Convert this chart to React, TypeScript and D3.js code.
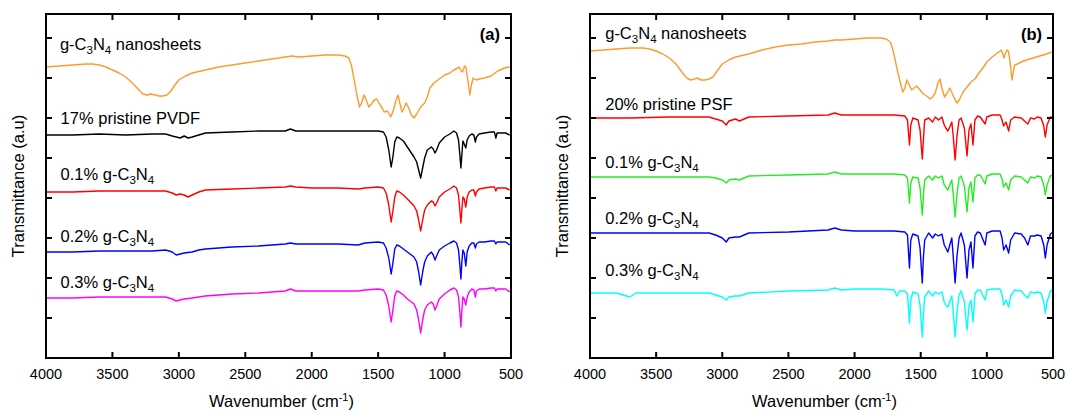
import React from 'react';
import * as d3 from 'd3';

type Pt = [number, number];

const xTicks = [4000, 3500, 3000, 2500, 2000, 1500, 1000, 500];
const yTicks = [40, 80, 120, 160, 200, 240, 280, 320];

// Panel (a)
const gcnA: Pt[] = [[4000,291],[3900,292],[3800,293],[3700,294],[3650,294],[3600,293],[3550,291],[3500,288],[3450,285],[3400,281],[3350,275],[3300,268],[3270,264],[3240,263],[3210,264],[3180,263],[3150,262],[3120,262],[3090,263],[3060,267],[3030,273],[3000,278],[2950,282],[2900,285],[2800,288],[2700,291],[2600,293],[2500,295],[2400,297],[2300,299],[2200,301],[2150,302],[2100,301],[2000,302],[1900,303],[1800,303],[1750,302],[1720,300],[1700,292],[1680,278],[1660,263],[1640,251],[1625,255],[1605,263],[1590,258],[1570,251],[1550,254],[1530,258],[1510,259],[1490,254],[1470,250],[1455,246],[1430,247],[1405,241],[1385,248],[1365,258],[1350,263],[1335,254],[1320,246],[1305,250],[1290,255],[1270,250],[1250,243],[1230,240],[1210,244],[1180,251],[1150,255],[1130,261],[1110,270],[1080,275],[1050,278],[1000,283],[960,285],[930,288],[900,290],[890,291],[875,287],[865,286],[850,292],[840,291],[825,278],[810,263],[798,273],[785,280],[760,278],[740,279],[700,280],[650,282],[600,287],[550,290],[510,291]];

const pvdf: Pt[] = [[4000,223],[3800,223],[3600,224],[3400,223],[3200,224],[3100,224],[3050,222],[3020,221],[2990,220],[2960,222],[2930,220],[2900,221],[2850,223],[2800,225],[2600,226],[2400,227],[2200,227],[2160,229],[2120,227],[2000,227],[1800,227],[1600,227],[1500,227],[1460,226],[1440,221],[1420,208],[1402,191],[1390,200],[1375,216],[1360,221],[1340,220],[1310,217],[1280,211],[1250,205],[1230,201],[1210,196],[1195,188],[1180,180],[1165,190],[1150,200],[1130,208],[1100,211],[1085,209],[1072,205],[1060,208],[1040,215],[1000,221],[960,224],[930,227],[910,225],[895,218],[885,203],[877,190],[870,203],[862,217],[852,214],[840,210],[830,218],[815,222],[795,224],[780,223],[768,216],[760,221],[740,224],[700,225],[650,226],[625,226],[614,220],[605,225],[570,225],[540,225],[510,223]];

const pvdf01: Pt[] = [[4000,166],[3800,166],[3600,167],[3400,167],[3200,167],[3100,167],[3050,165],[3020,163],[2990,164],[2960,163],[2930,161],[2900,163],[2850,166],[2800,168],[2600,169],[2400,170],[2200,171],[2160,172],[2120,171],[2000,170],[1800,170],[1650,169],[1600,170],[1500,171],[1460,170],[1440,165],[1420,153],[1402,136],[1390,146],[1375,161],[1360,167],[1340,166],[1310,163],[1280,159],[1250,155],[1230,152],[1210,147],[1195,138],[1180,127],[1165,138],[1150,148],[1130,153],[1100,157],[1085,156],[1072,152],[1060,155],[1040,161],[1000,166],[960,169],[930,172],[910,170],[895,163],[885,148],[877,135],[870,148],[862,161],[852,159],[840,151],[830,161],[815,166],[795,168],[780,168],[768,162],[760,166],[740,169],[700,170],[650,171],[625,171],[614,167],[605,170],[570,170],[540,170],[510,168]];

const pvdf02: Pt[] = [[4000,106],[3800,106],[3600,107],[3400,107],[3200,107],[3100,108],[3050,106],[3020,103],[2990,104],[2960,105],[2900,106],[2850,108],[2800,109],[2600,111],[2400,112],[2200,114],[2160,115],[2120,114],[2000,114],[1800,114],[1650,113],[1600,115],[1500,116],[1460,115],[1440,110],[1420,100],[1402,84],[1390,94],[1375,109],[1360,113],[1340,112],[1310,109],[1280,106],[1250,103],[1230,101],[1210,96],[1195,86],[1180,73],[1165,86],[1150,96],[1130,102],[1100,106],[1085,103],[1072,98],[1060,102],[1040,108],[1000,112],[960,115],[930,117],[910,115],[895,108],[885,93],[877,79],[870,96],[862,108],[852,105],[840,92],[830,106],[815,112],[795,115],[780,115],[768,110],[760,114],[740,116],[700,116],[650,117],[625,117],[614,114],[605,116],[570,116],[540,116],[510,113]];

const pvdf03: Pt[] = [[4000,60],[3800,60],[3600,61],[3400,61],[3200,61],[3100,61],[3050,59],[3020,57],[2990,58],[2960,59],[2900,60],[2850,61],[2800,62],[2600,64],[2400,65],[2200,67],[2160,69],[2120,67],[2000,67],[1800,67],[1650,67],[1600,68],[1500,69],[1460,68],[1440,63],[1420,52],[1402,36],[1390,47],[1375,62],[1360,67],[1340,66],[1310,63],[1280,59],[1250,56],[1230,54],[1210,48],[1195,38],[1180,25],[1165,38],[1150,48],[1130,53],[1100,56],[1085,54],[1072,48],[1060,52],[1040,59],[1000,64],[960,68],[930,70],[910,68],[895,61],[885,46],[877,31],[870,47],[862,61],[852,59],[840,53],[830,61],[815,66],[795,69],[780,68],[768,61],[760,67],[740,69],[700,69],[650,70],[625,70],[614,67],[605,69],[570,69],[540,69],[510,66]];

// Panel (b)
const gcnB: Pt[] = [[4000,307],[3900,308],[3800,309],[3700,310],[3600,310],[3550,309],[3500,307],[3450,304],[3400,300],[3350,294],[3300,285],[3270,280],[3240,278],[3210,279],[3190,280],[3160,278],[3130,278],[3100,279],[3070,281],[3040,287],[3000,294],[2950,298],[2900,301],[2800,304],[2700,308],[2600,311],[2500,313],[2400,314],[2300,316],[2200,317],[2150,318],[2100,318],[2000,319],[1900,320],[1800,320],[1760,319],[1730,316],[1710,308],[1690,296],[1670,284],[1650,273],[1635,266],[1620,270],[1605,278],[1590,274],[1570,268],[1550,270],[1530,272],[1505,268],[1480,264],[1455,262],[1430,259],[1410,261],[1390,265],[1370,275],[1355,279],[1340,270],[1320,261],[1300,265],[1280,270],[1260,264],[1240,258],[1225,255],[1205,259],[1180,266],[1150,271],[1120,276],[1090,279],[1060,285],[1030,290],[1000,296],[960,301],[920,305],[900,307],[890,308],[880,304],[870,300],[860,305],[845,308],[835,306],[822,293],[810,278],[800,286],[790,293],[770,294],[740,296],[700,298],[650,300],[600,302],[550,304],[510,306]];

const psf: Pt[] = [[4000,240],[3700,240],[3400,241],[3100,241],[3050,239],[3000,237],[2970,233],[2950,237],[2900,239],[2870,237],[2800,241],[2500,242],[2200,243],[2150,245],[2100,243],[2000,243],[1800,243],[1700,243],[1620,242],[1600,238],[1585,213],[1575,233],[1560,240],[1520,238],[1505,228],[1488,199],[1480,218],[1470,238],[1440,240],[1410,236],[1390,241],[1365,238],[1340,241],[1322,233],[1310,230],[1295,227],[1280,231],[1265,236],[1255,223],[1240,198],[1225,223],[1210,238],[1195,240],[1170,230],[1150,202],[1135,228],[1120,234],[1105,213],[1090,238],[1070,242],[1050,241],[1013,234],[1000,241],[960,243],[900,243],[885,238],[873,232],[855,236],[835,227],[820,238],[790,241],[740,240],[715,237],[690,234],[670,240],[640,239],[620,241],[590,240],[570,232],[558,221],[545,233],[520,241],[500,241]];

const psf01: Pt[] = [[4000,181],[3700,181],[3400,181],[3100,181],[3050,180],[3000,178],[2970,175],[2950,178],[2900,179],[2870,178],[2800,182],[2500,183],[2200,184],[2150,186],[2100,184],[2000,184],[1800,184],[1700,184],[1620,183],[1600,180],[1585,155],[1575,175],[1560,181],[1520,180],[1505,170],[1488,143],[1480,162],[1470,178],[1440,182],[1410,178],[1390,182],[1365,180],[1340,182],[1322,173],[1310,171],[1295,168],[1280,173],[1265,178],[1255,165],[1240,141],[1225,165],[1210,180],[1195,182],[1170,172],[1150,146],[1135,170],[1120,176],[1105,156],[1090,180],[1070,183],[1050,183],[1013,174],[1000,182],[960,184],[900,184],[885,179],[873,171],[855,175],[835,168],[820,178],[790,182],[740,181],[715,178],[690,175],[670,181],[640,180],[620,182],[590,181],[570,173],[558,163],[545,173],[520,182],[500,183]];

const psf02: Pt[] = [[4000,125],[3700,125],[3400,125],[3100,125],[3050,123],[3000,120],[2970,116],[2950,120],[2900,121],[2870,121],[2800,125],[2500,126],[2200,128],[2150,130],[2100,128],[2000,127],[1800,127],[1700,127],[1620,126],[1600,123],[1585,90],[1575,118],[1560,124],[1520,122],[1505,110],[1488,75],[1480,100],[1470,118],[1440,125],[1410,120],[1390,124],[1365,122],[1340,124],[1322,113],[1310,110],[1295,106],[1280,113],[1265,120],[1255,103],[1240,75],[1225,103],[1210,120],[1195,125],[1170,113],[1150,80],[1135,108],[1120,116],[1105,90],[1090,122],[1070,126],[1050,125],[1013,113],[1000,125],[960,127],[900,127],[885,120],[873,108],[855,113],[835,105],[820,118],[790,125],[740,124],[715,120],[690,113],[670,122],[640,122],[620,123],[590,122],[570,113],[558,100],[545,113],[520,124],[500,126]];

const psf03: Pt[] = [[4000,65],[3800,65],[3700,61],[3650,65],[3400,65],[3100,65],[3050,63],[3000,61],[2970,58],[2950,61],[2900,62],[2870,62],[2800,65],[2500,67],[2200,68],[2150,70],[2100,68],[2000,69],[1800,69],[1700,68],[1680,62],[1660,67],[1620,67],[1600,64],[1585,35],[1575,58],[1560,66],[1520,64],[1505,53],[1488,21],[1480,43],[1470,61],[1440,67],[1410,62],[1390,66],[1365,64],[1340,66],[1322,56],[1310,53],[1295,51],[1280,57],[1265,62],[1255,48],[1240,21],[1225,48],[1210,63],[1195,67],[1170,56],[1150,28],[1135,52],[1120,58],[1105,36],[1090,64],[1070,68],[1050,68],[1013,58],[1000,68],[960,69],[900,69],[885,63],[873,53],[855,58],[835,51],[820,62],[790,68],[740,67],[715,63],[690,60],[670,66],[640,65],[620,66],[590,65],[570,56],[558,45],[545,56],[520,67],[500,68]];

type Series = { data: Pt[]; color: string };
type Label = { pct: string; text: string; sub: boolean; wn: number; val: number };

const FONT = "'Liberation Sans', Arial, Helvetica, sans-serif";
const TOP = 14;
const BOTTOM = 358;

const panels = [
  {
    left: 46, right: 511, tag: '(a)',
    series: [
      { data: gcnA, color: '#FF9A2E' },
      { data: pvdf, color: '#000000' },
      { data: pvdf01, color: '#FF0000' },
      { data: pvdf02, color: '#0000FF' },
      { data: pvdf03, color: '#FF00FF' },
    ] as Series[],
    labels: [
      { pct: '', text: ' nanosheets', sub: true, wn: 3895, val: 308 },
      { pct: '17% pristine PVDF', text: '', sub: false, wn: 3890, val: 234 },
      { pct: '0.1% ', text: '', sub: true, wn: 3890, val: 178 },
      { pct: '0.2% ', text: '', sub: true, wn: 3890, val: 116 },
      { pct: '0.3% ', text: '', sub: true, wn: 3890, val: 70 },
    ] as Label[],
  },
  {
    left: 590, right: 1053, tag: '(b)',
    series: [
      { data: gcnB, color: '#FF9A2E' },
      { data: psf, color: '#FF0000' },
      { data: psf01, color: '#22EE22' },
      { data: psf02, color: '#0000FF' },
      { data: psf03, color: '#00FFFF' },
    ] as Series[],
    labels: [
      { pct: '', text: ' nanosheets', sub: true, wn: 3885, val: 319 },
      { pct: '20% pristine PSF', text: '', sub: false, wn: 3885, val: 248 },
      { pct: '0.1% ', text: '', sub: true, wn: 3885, val: 190 },
      { pct: '0.2% ', text: '', sub: true, wn: 3885, val: 134 },
      { pct: '0.3% ', text: '', sub: true, wn: 3885, val: 82 },
    ] as Label[],
  },
];

function Panel({ p }: { p: typeof panels[number] }) {
  const x = d3.scaleLinear().domain([4000, 500]).range([p.left, p.right]);
  const y = d3.scaleLinear().domain([0, 344]).range([BOTTOM, TOP]);
  const line = d3.line<Pt>().x(d => x(d[0])).y(d => y(d[1]));
  const tl = 6;
  const cx = (p.left + p.right) / 2;
  const cy = (TOP + BOTTOM) / 2;
  return (
    <g>
      <defs>
        <clipPath id={'clip' + p.tag}>
          <rect x={p.left} y={TOP} width={p.right - p.left} height={BOTTOM - TOP} />
        </clipPath>
      </defs>
      <g clipPath={`url(#clip${p.tag})`}>
        {p.series.map((s, i) => (
          <path key={i} d={line(s.data) || ''} fill="none" stroke={s.color} strokeWidth={1.4} strokeLinejoin="round" />
        ))}
      </g>
      {xTicks.map(t => (
        <g key={'x' + t}>
          <line x1={x(t)} x2={x(t)} y1={BOTTOM} y2={BOTTOM - tl} stroke="#000" strokeWidth={2} />
          <line x1={x(t)} x2={x(t)} y1={TOP} y2={TOP + tl} stroke="#000" strokeWidth={2} />
          <text x={x(t)} y={BOTTOM + 21} textAnchor="middle" fontSize={14.5} fontFamily={FONT} fill="#000">{t}</text>
        </g>
      ))}
      {yTicks.map(t => (
        <g key={'y' + t}>
          <line x1={p.left} x2={p.left + tl} y1={y(t)} y2={y(t)} stroke="#000" strokeWidth={2} />
          <line x1={p.right} x2={p.right - tl} y1={y(t)} y2={y(t)} stroke="#000" strokeWidth={2} />
        </g>
      ))}
      <rect x={p.left} y={TOP} width={p.right - p.left} height={BOTTOM - TOP} fill="none" stroke="#000" strokeWidth={2} />
      {p.labels.map((l, i) => (
        <text key={i} x={x(l.wn)} y={y(l.val)} fontSize={16.5} fontFamily={FONT} fill="#000">
          {l.pct}
          {l.sub ? (
            <>
              <tspan>g-C</tspan>
              <tspan dy={4} fontSize={11.5}>3</tspan>
              <tspan dy={-4}>N</tspan>
              <tspan dy={4} fontSize={11.5}>4</tspan>
              <tspan dy={-4}>{l.text}</tspan>
            </>
          ) : null}
        </text>
      ))}
      <text x={p.right - 11} y={TOP + 26} textAnchor="end" fontSize={16.5} fontWeight="bold" fontFamily={FONT} fill="#000">{p.tag}</text>
      <text x={cx + 3} y={BOTTOM + 49} textAnchor="middle" fontSize={16.5} fontFamily={FONT} fill="#000">
        Wavenumber (cm<tspan dy={-6} fontSize={11}>-1</tspan><tspan dy={6}>)</tspan>
      </text>
      <text transform={`translate(${p.left - 22},${cy}) rotate(-90)`} textAnchor="middle" fontSize={16.5} fontFamily={FONT} fill="#000">
        Transmittance (a.u)
      </text>
    </g>
  );
}

export default function App() {
  return (
    <svg width={1071} height={411} viewBox="0 0 1071 411" style={{ position: 'absolute', left: 0, top: 0, background: '#fff' }}>
      <rect x={0} y={0} width={1071} height={411} fill="#fff" />
      {panels.map(p => <Panel key={p.tag} p={p} />)}
    </svg>
  );
}
